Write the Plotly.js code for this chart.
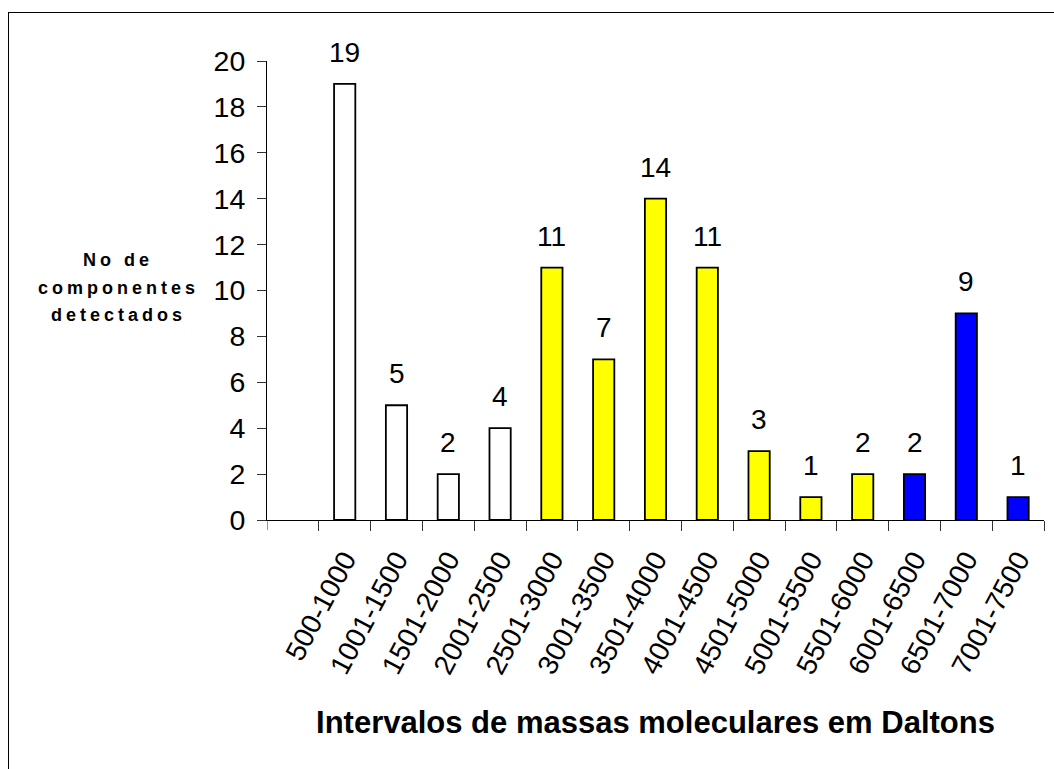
<!DOCTYPE html>
<html>
<head>
<meta charset="utf-8">
<script src="https://cdn.plot.ly/plotly-3.0.1.min.js"></script>
<style>
  html, body { margin: 0; padding: 0; background: #fff; }
  #wrap { position: relative; width: 1054px; height: 769px; overflow: hidden; }
  #chart { position: absolute; left: 0; top: 0; width: 1054px; height: 769px; }
  #frame { position: absolute; left: 8px; top: 12px; width: 1100px; height: 800px;
           border-left: 1px solid #000; border-top: 1px solid #000; pointer-events: none; }
  #chart .annotation[data-index="14"] text,
  #chart .annotation[data-index="15"] text,
  #chart .annotation[data-index="16"] text { letter-spacing: 4px; }
</style>
</head>
<body>
<div id="wrap">
  <div id="chart"></div>
  <div id="frame"></div>
</div>
<script>
// Data
const categories = ["500-1000", "1001-1500", "1501-2000", "2001-2500", "2501-3000",
  "3001-3500", "3501-4000", "4001-4500", "4501-5000", "5001-5500", "5501-6000",
  "6001-6500", "6501-7000", "7001-7500"];
const counts = [19, 5, 2, 4, 11, 7, 14, 11, 3, 1, 2, 2, 9, 1];
const yTicks = [0, 2, 4, 6, 8, 10, 12, 14, 16, 18, 20];
const yTitleLines = ["No de", "componentes", "detectados"];
const xTitleText = "Intervalos de massas moleculares em Daltons";

// Styles (separate from data)
const barColors = ["#FFFFFF", "#FFFFFF", "#FFFFFF", "#FFFFFF",
  "#FFFF00", "#FFFF00", "#FFFF00", "#FFFF00", "#FFFF00", "#FFFF00", "#FFFF00",
  "#0000FF", "#0000FF", "#0000FF"];

const FONT = "Arial, 'Liberation Sans', sans-serif";

const trace = {
  type: "bar",
  x: categories,
  y: counts,
  width: 0.41,
  marker: { color: barColors, line: { color: "#000", width: 1.8 } },
  hoverinfo: "x+y"
};

const valueLabels = categories.map((c, i) => ({
  x: c, y: counts[i], xref: "x", yref: "y",
  text: String(counts[i]), showarrow: false,
  yanchor: "bottom", yshift: 14,
  font: { family: FONT, size: 28, color: "#000" }
}));

const yTitleCenters = [260, 288, 315];
const yTitle = yTitleLines.map((t, i) => ({
  xref: "paper", yref: "paper",
  x: (118 - 267) / 777, y: (520 - yTitleCenters[i]) / 459,
  xanchor: "center", yanchor: "middle",
  text: "<b>" + t + "</b>",
  showarrow: false, align: "center",
  font: { family: FONT, size: 18, color: "#000" }
}));

const layout = {
  width: 1054, height: 769,
  margin: { l: 267, r: 10, t: 61, b: 249 },
  paper_bgcolor: "rgba(0,0,0,0)",
  plot_bgcolor: "rgba(0,0,0,0)",
  showlegend: false,
  font: { family: FONT, color: "#000" },
  xaxis: {
    type: "category",
    range: [-1.5, 13.5],
    tickson: "boundaries",
    ticks: "outside", ticklen: 10, tickwidth: 1, tickcolor: "#333",
    showline: true, linecolor: "#000", linewidth: 1,
    showgrid: false, zeroline: false,
    tickangle: -62,
    ticklabelstandoff: 11,
    tickfont: { family: FONT, size: 28, color: "#000" },
    title: { text: "<b>" + xTitleText + "</b>",
             font: { family: FONT, size: 31, color: "#000" }, standoff: 33 }
  },
  yaxis: {
    range: [0, 20],
    tickvals: yTicks,
    ticks: "outside", ticklen: 9, tickwidth: 1, tickcolor: "#333",
    showline: true, linecolor: "#000", linewidth: 1,
    showgrid: false, zeroline: false,
    ticklabelstandoff: 6,
    tickfont: { family: FONT, size: 28.5, color: "#000" }
  },
  shapes: [{
    type: "line", xref: "x", yref: "paper",
    x0: -1.5, x1: -1.5, y0: 0, y1: -10 / 459,
    line: { color: "#333", width: 1 }
  }],
  annotations: valueLabels.concat(yTitle)
};

Plotly.newPlot("chart", [trace], layout, { displayModeBar: false, staticPlot: true });
</script>
</body>
</html>
